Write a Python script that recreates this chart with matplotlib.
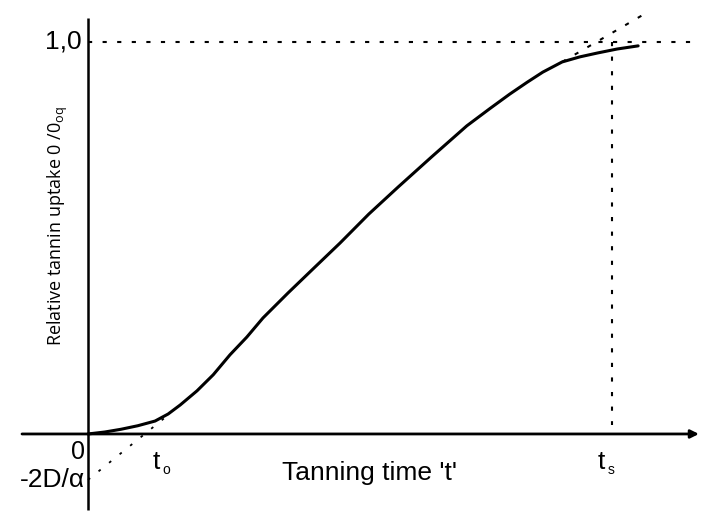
import matplotlib.pyplot as plt

# uptake curve (time scaled so that t_s = 1, uptake relative to equilibrium)
curve_t = [0.0, 0.032, 0.063, 0.095, 0.128, 0.153, 0.176, 0.208, 0.239, 0.271,
           0.303, 0.334, 0.382, 0.431, 0.481, 0.536, 0.592, 0.656, 0.723, 0.767,
           0.805, 0.838, 0.868, 0.905, 0.939, 0.973, 1.010, 1.050]
curve_y = [0.0, 0.005, 0.012, 0.021, 0.033, 0.051, 0.074, 0.110, 0.151, 0.202,
           0.247, 0.296, 0.360, 0.423, 0.487, 0.561, 0.630, 0.707, 0.786, 0.830,
           0.867, 0.897, 0.923, 0.949, 0.962, 0.972, 0.982, 0.990]

# tangents
low_tan_t = [0.0, 0.148]
low_tan_y = [-0.117, 0.043]
top_tan_t = [0.905, 1.072]
top_tan_y = [0.949, 1.079]

t_s = 1.0
y_max = 1.0
t_o = 0.108
intercept = -0.117

FONT = "Liberation Sans"

fig = plt.figure(figsize=(7.12, 5.21), dpi=100)
ax = fig.add_axes([0, 0, 1, 1])
ax.set_xlim(-0.168, 1.191)
ax.set_ylim(-0.222, 1.107)
ax.axis("off")

# axes
ax.annotate("", xy=(1.166, 0), xytext=(-0.126, 0),
            arrowprops=dict(arrowstyle="-|>", lw=2.0, color="black",
                            mutation_scale=12, shrinkA=0, shrinkB=0))
ax.plot([0, 0], [-0.194, 1.061], color="black", lw=1.8, solid_capstyle="butt")

dots = (0, (2, 5))
ax.plot([0, 1.164], [y_max, y_max], color="black", lw=1.5, ls=dots)
ax.plot([t_s, t_s], [y_max, 0.023], color="black", lw=1.5, ls=dots)
ax.plot(low_tan_t, low_tan_y, color="black", lw=1.3, ls=(0, (1.5, 6)))
ax.plot(top_tan_t, top_tan_y, color="black", lw=1.5, ls=dots)

ax.plot(curve_t, curve_y, color="black", lw=2.2, solid_capstyle="round",
        solid_joinstyle="round")

ax.text(-0.012, y_max, "1,0", ha="right", va="center", fontsize=19, family=FONT)
ax.text(-0.006, -0.016, "0", ha="right", va="top", fontsize=18, family=FONT)
ax.text(-0.006, intercept, "-2D/α", ha="right", va="center", fontsize=19,
        family=FONT)
ax.text(t_o + 0.022, -0.04, "t", ha="center", va="top", fontsize=19, family=FONT)
ax.text(t_o + 0.042, -0.092, "o", ha="center", va="center", fontsize=10,
        family=FONT)
ax.text(t_s - 0.02, -0.04, "t", ha="center", va="top", fontsize=19, family=FONT)
ax.text(t_s - 0.002, -0.092, "s", ha="center", va="center", fontsize=10,
        family=FONT)
ax.text(0.538, -0.117, "Tanning time 't'", ha="center", va="baseline",
        fontsize=19, family=FONT)

ax.text(-0.058, 0.53, r"Relative tannin uptake 0 /0$_{\mathregular{oq}}$",
        rotation=90, ha="center", va="center", fontsize=13, family="Open Sans")

fig.savefig("out.png", dpi=100)
